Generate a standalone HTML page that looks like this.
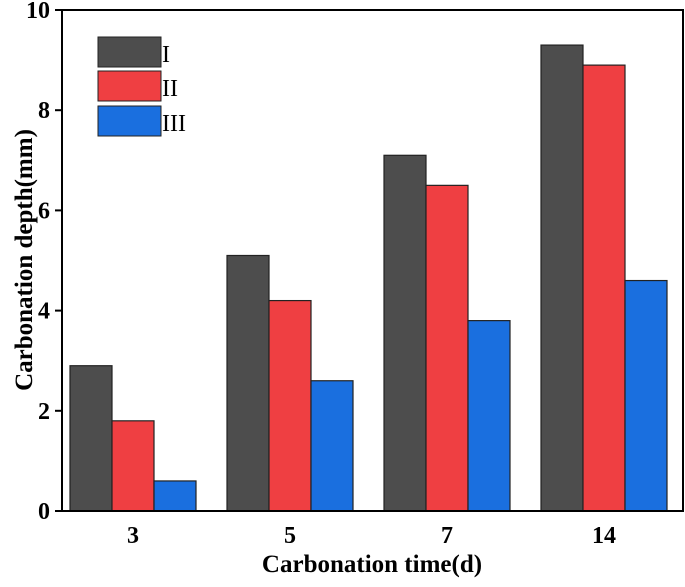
<!DOCTYPE html>
<html><head><meta charset="utf-8"><style>
body{margin:0;background:#fff;}
svg text{font-family:"Liberation Serif",serif;font-weight:bold;fill:#000;}
</style></head><body>
<svg id="chart" width="685" height="582">
<g id="bars"></g>
<rect x="62" y="10" width="621" height="501" fill="none" stroke="#000" stroke-width="2"/>
<g id="axes"></g>
<text x="32" y="260" font-size="25" text-anchor="middle" transform="rotate(-90 32 260)">Carbonation depth(mm)</text>
<text x="372" y="572" font-size="25" text-anchor="middle">Carbonation time(d)</text>
<g>
<rect x="98" y="37" width="63" height="30" fill="#4d4d4d" stroke="#222"/>
<text x="162" y="62" font-size="24" font-weight="normal" style="font-weight:normal">I</text>
<rect x="98" y="71" width="63" height="30" fill="#ef3f42" stroke="#222"/>
<text x="162" y="96" font-size="24" style="font-weight:normal">II</text>
<rect x="98" y="106" width="63" height="30" fill="#1a6fdf" stroke="#222"/>
<text x="162" y="131" font-size="24" style="font-weight:normal">III</text>
</g>
</svg>
<script>
const categories=["3","5","7","14"];
const seriesI=[2.9,5.1,7.1,9.3];
const seriesII=[1.8,4.2,6.5,8.9];
const seriesIII=[0.6,2.6,3.8,4.6];
const yTicks=[0,2,4,6,8,10];
const NS="http://www.w3.org/2000/svg";
const y0=511,yPer=50.1;
function yScale(v){return y0-v*yPer;}
function xCenter(i){return 133+i*157;}
const bw=42;
const series=[[seriesI,"#4d4d4d","i"],[seriesII,"#ef3f42","ii"],[seriesIII,"#1a6fdf","iii"]];
const bars=document.getElementById("bars");
series.forEach(([vals,col,nm],s)=>{
 vals.forEach((v,i)=>{
  const r=document.createElementNS(NS,"rect");
  const x=xCenter(i)+(s-1.5)*bw;
  r.setAttribute("x",x);r.setAttribute("y",yScale(v));
  r.setAttribute("width",bw);r.setAttribute("height",y0-yScale(v));
  r.setAttribute("fill",col);r.setAttribute("stroke","#222");r.setAttribute("stroke-width","1.2");
  
  
  bars.appendChild(r);
 });
});
const axes=document.getElementById("axes");
yTicks.forEach(t=>{
 const l=document.createElementNS(NS,"line");
 l.setAttribute("x1",55);l.setAttribute("x2",62);l.setAttribute("y1",yScale(t));l.setAttribute("y2",yScale(t));
 l.setAttribute("stroke","#000");l.setAttribute("stroke-width","2");
 
 
 axes.appendChild(l);
 const tx=document.createElementNS(NS,"text");
 tx.setAttribute("x",50);tx.setAttribute("y",yScale(t)+8);tx.setAttribute("text-anchor","end");tx.setAttribute("font-size","24");
 tx.textContent=t;
 
 
 axes.appendChild(tx);
});
categories.forEach((c,i)=>{
 const tx=document.createElementNS(NS,"text");
 tx.setAttribute("x",xCenter(i));tx.setAttribute("y",543);tx.setAttribute("text-anchor","middle");tx.setAttribute("font-size","24");
 tx.textContent=c;
 
 
 axes.appendChild(tx);
});
</script>
</body></html>
